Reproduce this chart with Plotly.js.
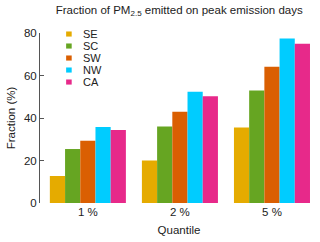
<!DOCTYPE html>
<html>
<head>
<meta charset="utf-8">
<script src="https://cdn.plot.ly/plotly-3.0.1.min.js"></script>
<style>html,body{margin:0;padding:0;background:#fff;}#chart{width:320px;height:242px;}</style>
</head>
<body>
<div id="chart"></div>
<script>
const categories = ["1 %", "2 %", "5 %"];
const regions = ["SE", "SC", "SW", "NW", "CA"];
const SE = [12.7, 20.0, 35.5];
const SC = [25.4, 36.0, 53.0];
const SW = [29.3, 42.9, 64.1];
const NW = [35.8, 52.4, 77.4];
const CA = [34.3, 50.2, 75.0];
const colors = ["#E5AB00", "#66A522", "#DA5F02", "#00CCFF", "#E7298A"];
const series = [SE, SC, SW, NW, CA];

const traces = regions.map((r, i) => ({
  type: "bar",
  name: r,
  x: categories,
  y: series[i],
  marker: {color: colors[i], line: {width: 0}}
}));

// compact legend drawn as annotations + small squares (paper coordinates)
const legX0 = 0.094, legX1 = 0.114, legTextX = 0.148;
const legTop = 0.994, legStep = 0.0706, sq = 0.03;
const annotations = regions.map((r, i) => ({
  xref: "paper", yref: "paper", x: legTextX, y: legTop - i * legStep,
  xanchor: "left", yanchor: "middle", showarrow: false,
  text: r, font: {size: 11, color: "#222"}
}));
const shapes = regions.map((r, i) => ({
  type: "rect", xref: "paper", yref: "paper",
  x0: legX0, x1: legX1,
  y0: legTop - i * legStep - sq / 2, y1: legTop - i * legStep + sq / 2,
  fillcolor: colors[i], line: {width: 0}
}));

const font = {family: "Liberation Sans, Arial, sans-serif", size: 11, color: "#222"};
const layout = {
  width: 320, height: 242,
  margin: {l: 40, r: 2, t: 33, b: 39},
  paper_bgcolor: "#fff", plot_bgcolor: "#fff",
  font: font,
  barmode: "group",
  bargap: 0.174,
  bargroupgap: 0,
  showlegend: false,
  annotations: annotations,
  shapes: shapes,
  title: {text: "Fraction of PM<sub>2.5</sub> emitted on peak emission days",
          font: {family: font.family, size: 11.5, color: "#222"},
          x: 0.56, xanchor: "center", y: 0.96, yanchor: "middle"},
  xaxis: {
    type: "category", range: [-0.52, 2.5],
    showline: false, ticks: "", showgrid: false, zeroline: false,
    tickfont: {size: 11.5, color: "#222"},
    title: {text: "Quantile", font: {size: 11.5, color: "#222"}, standoff: 9}
  },
  yaxis: {
    range: [0, 80], tickvals: [0, 20, 40, 60, 80],
    showline: true, linecolor: "#555", linewidth: 1,
    ticks: "inside", ticklen: 4, tickcolor: "#555",
    showgrid: false, zeroline: false,
    tickfont: {size: 11.5, color: "#222"},
    title: {text: "Fraction (%)", font: {size: 11.5, color: "#222"}, standoff: 5}
  }
};
Plotly.newPlot("chart", traces, layout, {displayModeBar: false, staticPlot: true});
</script>
</body>
</html>
